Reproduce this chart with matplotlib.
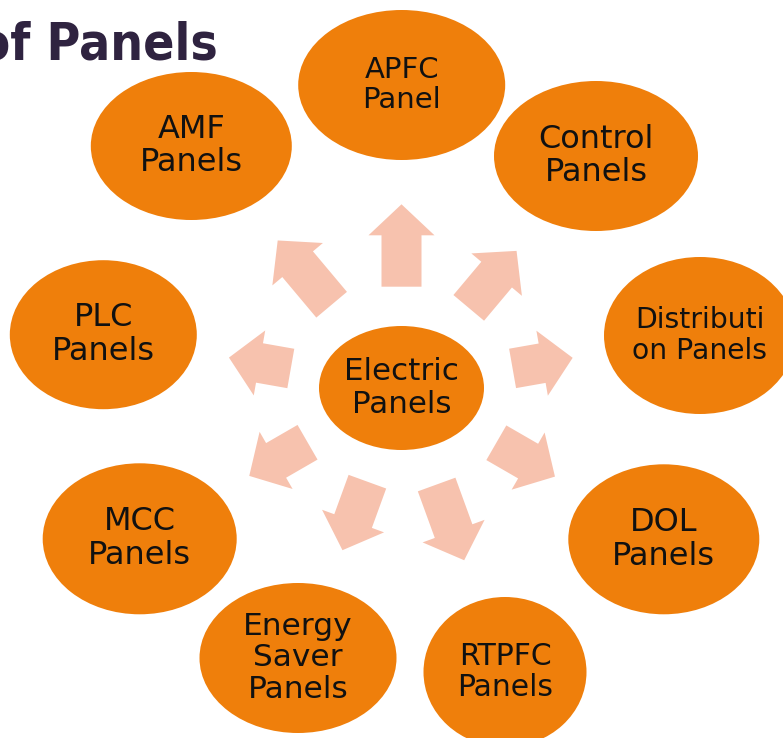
import numpy as np
import matplotlib
matplotlib.use("Agg")
import matplotlib.pyplot as plt
from matplotlib.patches import Ellipse, Polygon

# ---- data ----
center_label = "Electric\nPanels"
node_labels = ["APFC\nPanel", "Control\nPanels", "Distributi\non Panels", "DOL\nPanels",
               "RTPFC\nPanels", "Energy\nSaver\nPanels", "MCC\nPanels", "PLC\nPanels", "AMF\nPanels"]
node_x = [401.7, 596, 700, 663.8, 505, 298, 139.7, 103.3, 191.3]
node_y = [85, 156, 335.5, 539.3, 672, 658, 538.8, 334.7, 146]
node_w = [207, 204, 192, 191, 163, 197, 194, 187, 201]
node_h = [150, 150, 157, 150, 150, 150, 151, 149, 148]
node_fs = [21, 23, 20.3, 23, 21.5, 22.5, 23, 23, 23]

arrow_angles = [90, 50, 10, -30, -70, -110, -150, 170, 130]
arrow_rbase = [101.3, 104.6, 112.8, 109.5, 102.7, 99.7, 108.5, 112.4, 108.7]
arrow_len = [82.4, 74.4, 61, 67.7, 80.6, 72.9, 67.3, 62.8, 83.9]

cx, cy, cw, ch = 401.5, 388, 165, 124

ORANGE = "#EF7F0B"
ARROW = "#F7C2AE"
TXT = "#111111"

fig = plt.figure(figsize=(7.83, 7.38), dpi=100)
ax = fig.add_axes([0, 0, 1, 1])
ax.set_xlim(0, 783)
ax.set_ylim(738, 0)
ax.axis("off")

# title (partially cut off at left, as in the reference)
ax.text(218, 60, "Types of Panels", ha="right", va="baseline", fontsize=37,
        fontweight="bold", fontstretch="condensed", color="#2F2340", family="DejaVu Sans")

# arrows
shaft_hw, head_hw, head_len = 20, 33, 31
for ang, rb, L in zip(arrow_angles, arrow_rbase, arrow_len):
    a = np.deg2rad(ang)
    u = np.array([np.cos(a), -np.sin(a)])
    n = np.array([-u[1], u[0]])
    B = np.array([cx, cy]) + rb * u
    H = B + (L - head_len) * u
    T = B + L * u
    pts = [B + shaft_hw * n, H + shaft_hw * n, H + head_hw * n, T,
           H - head_hw * n, H - shaft_hw * n, B - shaft_hw * n]
    ax.add_patch(Polygon(pts, closed=True, facecolor=ARROW, edgecolor="none"))

# center
ax.add_patch(Ellipse((cx, cy), cw, ch, facecolor=ORANGE, edgecolor="none"))
ax.text(cx, cy, center_label, ha="center", va="center", fontsize=22.3, color=TXT,
        linespacing=1.15, family="DejaVu Sans")

# outer nodes
for lab, x, y, w, h, fs in zip(node_labels, node_x, node_y, node_w, node_h, node_fs):
    ax.add_patch(Ellipse((x, y), w, h, facecolor=ORANGE, edgecolor="none"))
    ax.text(x, y, lab, ha="center", va="center", fontsize=fs, color=TXT,
            linespacing=1.12, family="DejaVu Sans")

fig.savefig("out.png", dpi=100)
